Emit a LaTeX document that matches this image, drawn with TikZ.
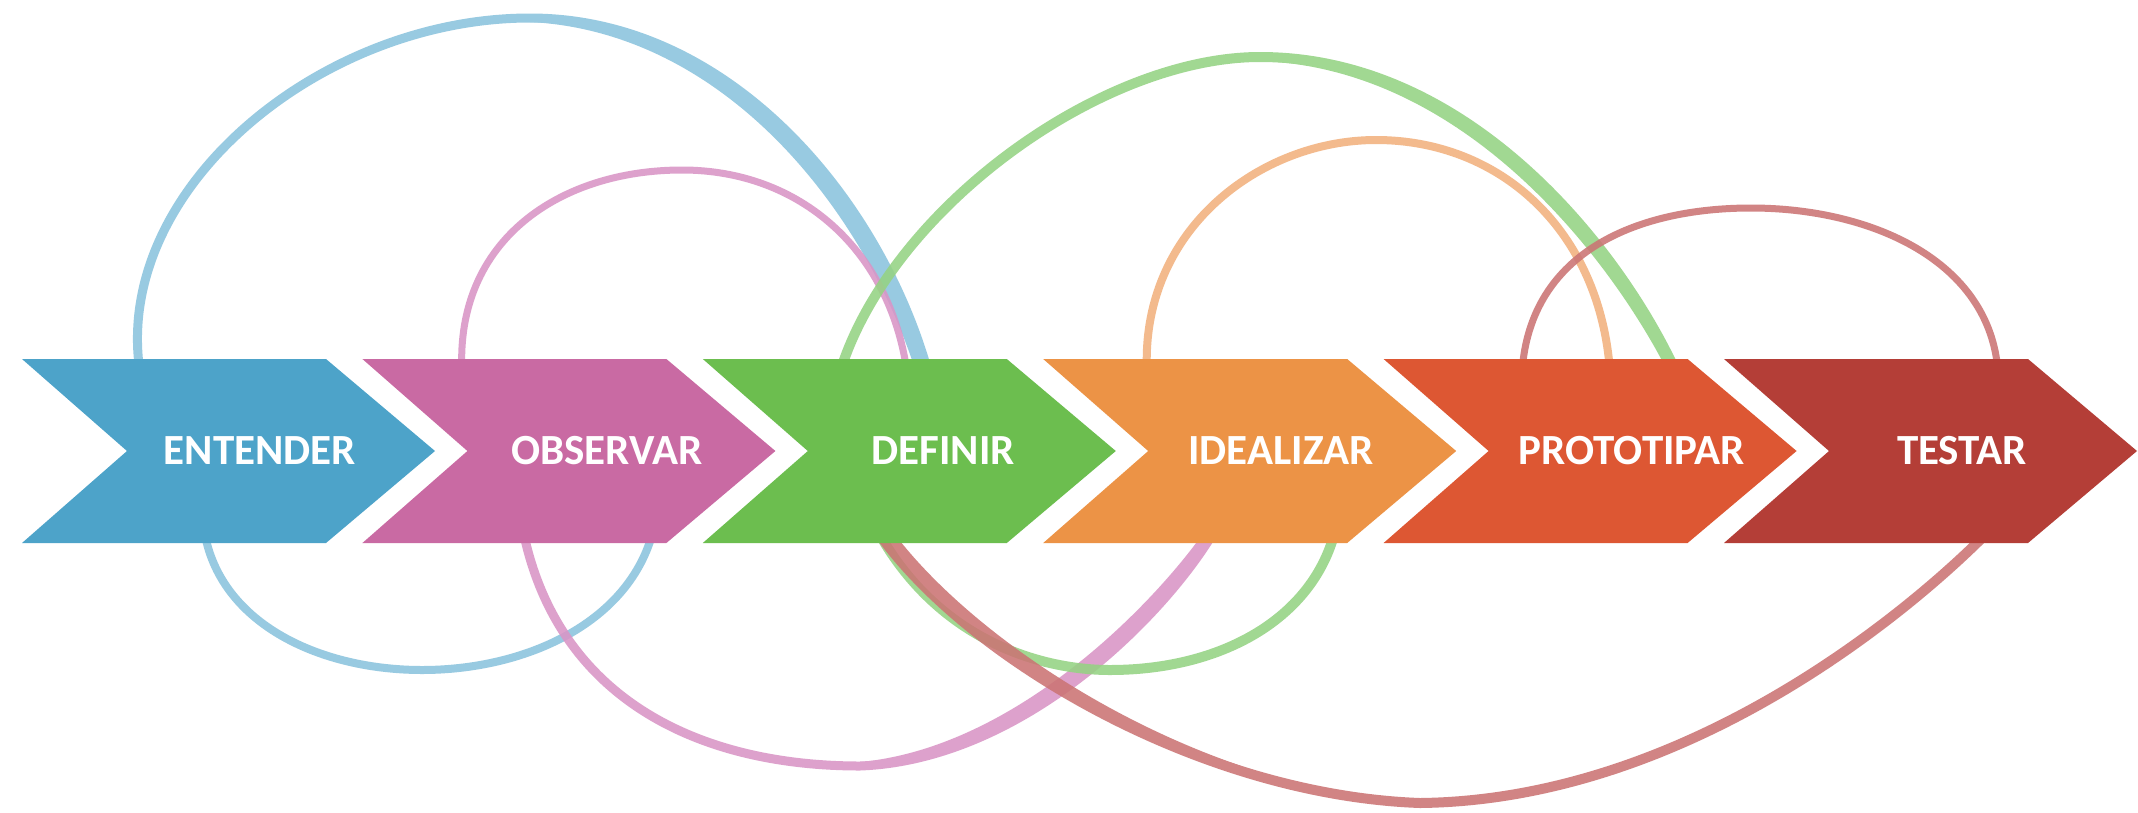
\documentclass[tikz,border=0pt]{standalone}
\usepackage{fontspec}
\setmainfont{Carlito}
\definecolor{cBlue}{HTML}{4DA3C9}
\definecolor{cPink}{HTML}{C96AA3}
\definecolor{cGreen}{HTML}{6CBE4F}
\definecolor{cOrange}{HTML}{EC9346}
\definecolor{cRedO}{HTML}{DD5733}
\definecolor{cDRed}{HTML}{B43E37}
\definecolor{lBlue}{HTML}{8AC3DD}
\definecolor{lPink}{HTML}{D995C6}
\definecolor{lGreen}{HTML}{95D383}
\definecolor{lOrange}{HTML}{F2B17E}
\definecolor{lRed}{HTML}{CB7474}
\begin{document}
\begin{tikzpicture}[x=1pt,y=-1pt,
  curve/.style={line cap=round,line join=round},
  grp/.style={transparency group,opacity=0.88},
  lbl/.style={text=white,font=\bfseries\fontsize{43}{43}\selectfont,inner sep=0pt}]
\useasboundingbox (0,0) rectangle (2138,812);
\fill[white] (0,0) rectangle (2138,812);

% ---- blue loop ----
\begin{scope}[grp]
\draw[curve,lBlue,line width=9pt] (140,372) .. controls (112,190) and (320,18) .. (530,18) .. controls (730,18) and (880,200) .. (928,372);
\fill[lBlue] (530,18) .. controls (730,18) and (880,200) .. (928,372) -- (916,372) .. controls (864,210) and (725,32) .. (530,22) -- cycle;
\draw[curve,lBlue,line width=8pt] (205,535) .. controls (240,715) and (600,715) .. (652,535);
\end{scope}

% ---- pink loop ----
\begin{scope}[grp]
\draw[curve,lPink,line width=7pt] (462,372) .. controls (455,240) and (560,170) .. (682,170) .. controls (800,170) and (890,250) .. (907,372);
\draw[curve,lPink,line width=9pt] (524,535) .. controls (560,700) and (700,766) .. (860,766) .. controls (1020,760) and (1160,620) .. (1212,535);
\fill[lPink] (860,766) .. controls (1020,760) and (1160,620) .. (1212,535) -- (1202,535) .. controls (1148,610) and (1012,748) .. (860,762) -- cycle;
\end{scope}

% ---- green loop ----
\begin{scope}[grp]
\draw[curve,lGreen,line width=10pt] (840,372) .. controls (890,210) and (1100,57) .. (1260,57) .. controls (1470,57) and (1620,250) .. (1676,372);
\fill[lGreen] (1260,57) .. controls (1470,57) and (1620,250) .. (1676,372) -- (1668,372) .. controls (1610,258) and (1465,68) .. (1260,61) -- cycle;
\draw[curve,lGreen,line width=10pt] (880,535) .. controls (940,640) and (1040,670) .. (1110,670) .. controls (1220,670) and (1310,620) .. (1334,535);
\end{scope}

% ---- orange loop ----
\begin{scope}[grp]
\draw[curve,lOrange,line width=8pt] (1147,372) .. controls (1140,230) and (1260,140) .. (1376,140) .. controls (1500,140) and (1600,230) .. (1610,372);
\end{scope}

% ---- red loop ----
\begin{scope}[grp]
\draw[curve,lRed,line width=7pt] (1522,372) .. controls (1530,250) and (1640,208) .. (1751,208) .. controls (1870,208) and (1990,260) .. (1998,372);
\draw[curve,lRed,line width=10pt] (880,535) .. controls (970,660) and (1200,795) .. (1420,803) .. controls (1680,800) and (1900,620) .. (1985,535);
\fill[lRed] (880,535) .. controls (970,660) and (1200,795) .. (1420,803) .. controls (1200,789) and (982,650) .. (893,532) -- cycle;
\end{scope}

% ---- chevrons ----
\foreach \i/\c/\tx/\t in {0/cBlue/260/ENTENDER,1/cPink/607/OBSERVAR,2/cGreen/943/DEFINIR,3/cOrange/1281/IDEALIZAR,4/cRedO/1632/PROTOTIPAR,5/cDRed/1962/TESTAR}{
  \pgfmathsetmacro{\xo}{22+340.4*\i}
  \fill[\c] (\xo,359) -- ({\xo+304},359) -- ({\xo+413},451) -- ({\xo+304},543) -- (\xo,543) -- ({\xo+105},451) -- cycle;
  \node[lbl] (n\i) at (\tx,451) {\t};
}
\end{tikzpicture}
\end{document}
